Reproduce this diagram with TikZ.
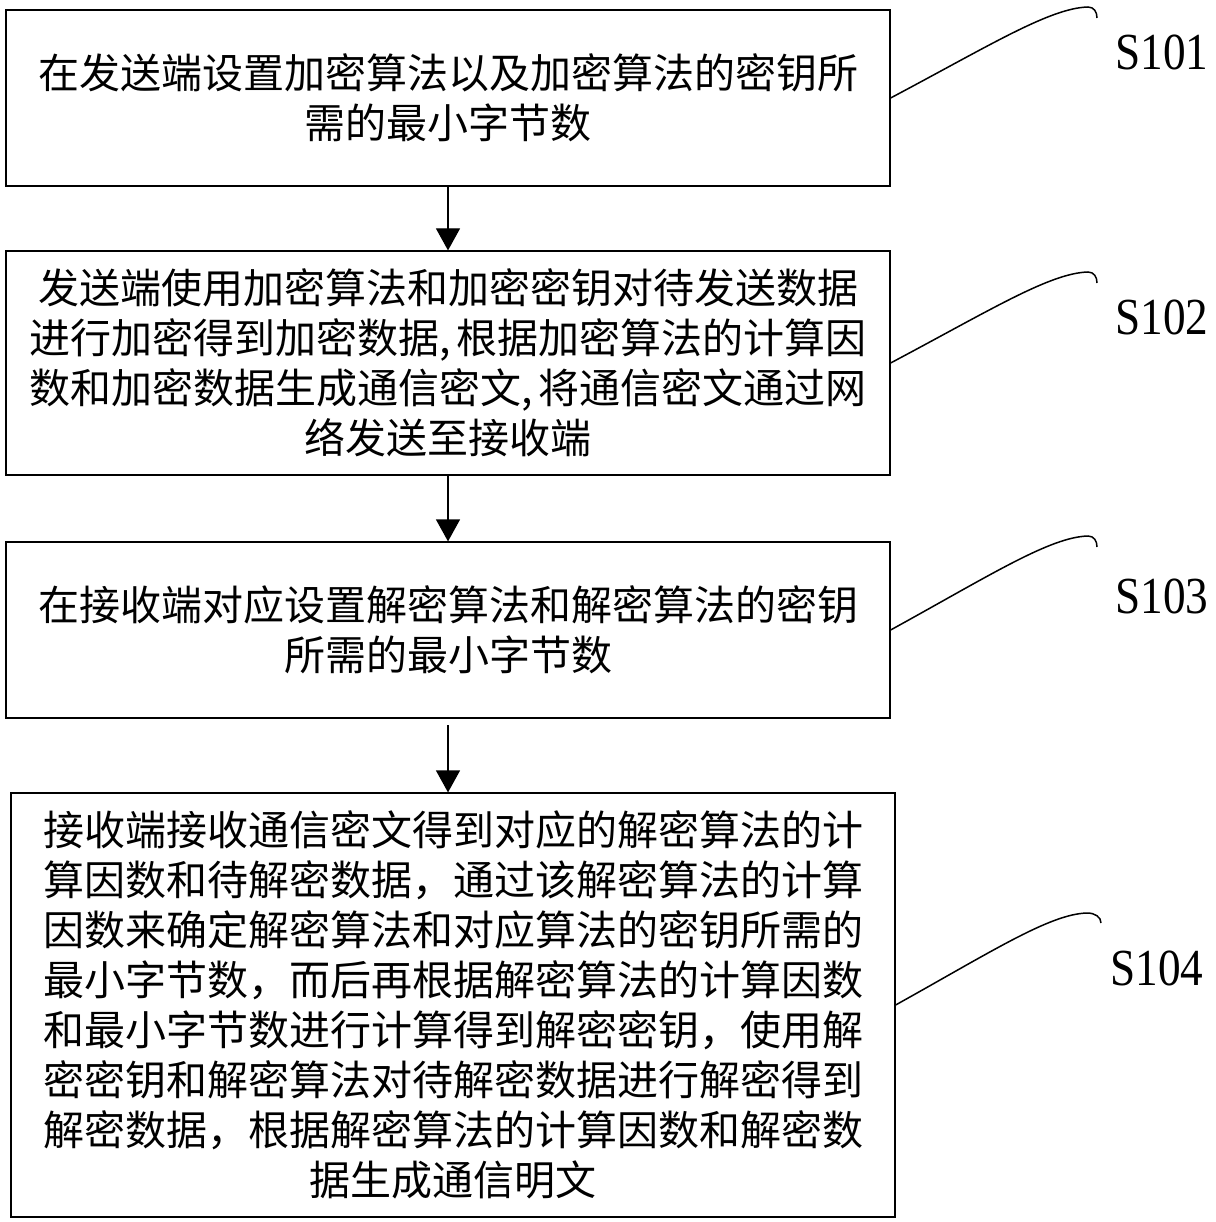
\documentclass[tikz,border=0pt]{standalone}
\usepackage{fontspec}
\setmainfont{Liberation Serif}
\newfontfamily\cjk{Noto Sans CJK SC}
\usetikzlibrary{arrows.meta}
\tikzset{
  stepbox/.style={draw, line width=1.2pt, minimum width=884pt, inner sep=0pt, align=center,
    font=\cjk\fontsize{41}{50}\selectfont},
  arr/.style={line width=1.2pt, -{Triangle[width=24pt,length=22pt]}},
  lead/.style={line width=1.5pt},
  lbl/.style={font=\fontsize{52}{52}\selectfont, xscale=0.87, inner sep=0pt}
}
\begin{document}
\begin{tikzpicture}[x=1pt,y=-1pt]
\useasboundingbox[fill=white] (0,0) rectangle (1215,1222);

\node[stepbox, minimum height=176pt] (b1) at (448,98)
  {在发送端设置加密算法以及加密算法的密钥所\\需的最小字节数};
\node[stepbox, minimum height=224pt] (b2) at (448,363)
  {发送端使用加密算法和加密密钥对待发送数据\\进行加密得到加密数据,\hspace{5pt}根据加密算法的计算因\\数和加密数据生成通信密文,\hspace{5pt}将通信密文通过网\\络发送至接收端};
\node[stepbox, minimum height=176pt] (b3) at (448,630)
  {在接收端对应设置解密算法和解密算法的密钥\\所需的最小字节数};
\node[stepbox, minimum height=424pt] (b4) at (453,1005)
  {接收端接收通信密文得到对应的解密算法的计\\算因数和待解密数据，通过该解密算法的计算\\因数来确定解密算法和对应算法的密钥所需的\\最小字节数，而后再根据解密算法的计算因数\\和最小字节数进行计算得到解密密钥，使用解\\密密钥和解密算法对待解密数据进行解密得到\\解密数据，根据解密算法的计算因数和解密数\\据生成通信明文};

\draw[arr] (b1.south) -- (b2.north);
\draw[arr] (b2.south) -- (b3.north);
\coordinate (c34) at (448,725);
\draw[arr] (c34) -- (c34 |- b4.north);

\node[lbl] (l1) at (1162,52) {S101};
\node[lbl] (l2) at (1162,317) {S102};
\node[lbl] (l3) at (1162,596) {S103};
\node[lbl] (l4) at (1157,968) {S104};

\coordinate (k1) at (1088,7);   \coordinate (t1) at (1097,18);
\coordinate (k2) at (1088,272); \coordinate (t2) at (1097,283);
\coordinate (k3) at (1088,536); \coordinate (t3) at (1097,547);
\coordinate (k4) at (1087,913); \coordinate (t4) at (1101,923);

\draw[lead] (b1.east) .. controls +(100,-53) and +(-38,1) .. (k1) .. controls +(6,0) and +(0,-6) .. (t1);
\draw[lead] (b2.east) .. controls +(100,-53) and +(-38,1) .. (k2) .. controls +(6,0) and +(0,-6) .. (t2);
\draw[lead] (b3.east) .. controls +(100,-55) and +(-38,1) .. (k3) .. controls +(6,0) and +(0,-6) .. (t3);
\draw[lead] (b4.east) .. controls +(97,-54) and +(-37,1) .. (k4) .. controls +(8,0) and +(0,-6) .. (t4);
\end{tikzpicture}
\end{document}
